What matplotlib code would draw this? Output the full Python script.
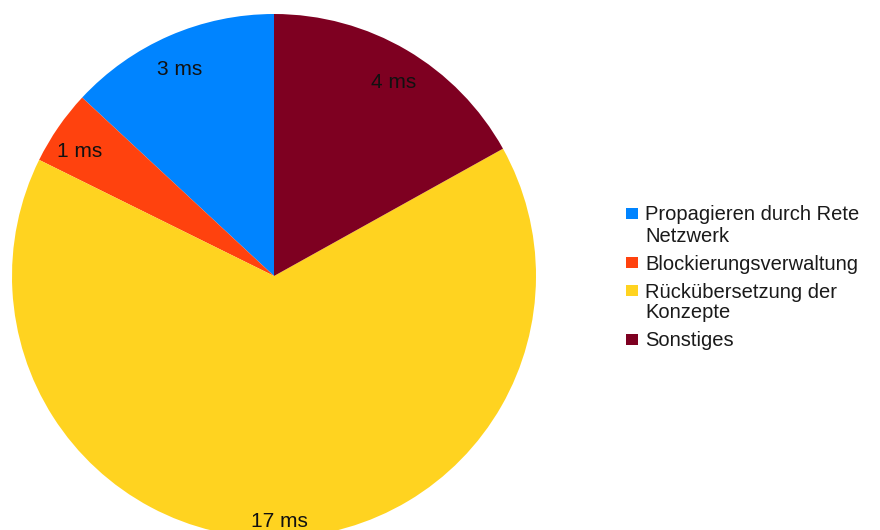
import matplotlib.pyplot as plt
from matplotlib.patches import Rectangle

# time per step, in ms
labels = ["Propagieren durch Rete\nNetzwerk", "Blockierungsverwaltung",
          "Rückübersetzung der\nKonzepte", "Sonstiges"]
times = [3.4, 1.2, 17.0, 4.4]
colors = ["#0084ff", "#ff420e", "#ffd320", "#7e0021"]

plt.rcParams["font.family"] = ["Liberation Sans", "DejaVu Sans"]

W, H = 880, 530
fig = plt.figure(figsize=(W / 100, H / 100), dpi=100)

# pie, slightly cut at the bottom edge
ax = fig.add_axes([12 / W, (H - 538) / H, 524 / W, 524 / H])
total = sum(times)
wedges, texts, autotexts = ax.pie(
    times, colors=colors, startangle=90, counterclock=True, radius=1,
    autopct=lambda p: "%.0f ms" % (p * total / 100), pctdistance=0.9,
    wedgeprops=dict(linewidth=0), textprops=dict(fontsize=15, color="#111111"))
for t in autotexts:
    t.set_va("top")
ax.set_xlim(-1, 1)
ax.set_ylim(-1, 1)
ax.axis("off")

# legend: square at the first line of every entry
y = 213
for lab, c in zip(labels, colors):
    fig.patches.append(Rectangle((626 / W, (H - y - 5.5) / H), 12 / W, 11 / H,
                                 transform=fig.transFigure, color=c, lw=0))
    for line in lab.split("\n"):
        fig.text(645 / W, (H - y) / H, line, fontsize=14.5, color="#1a1a1a",
                 ha="left", va="center_baseline")
        y += 21
    y += 7

fig.savefig("out.png", dpi=100)
